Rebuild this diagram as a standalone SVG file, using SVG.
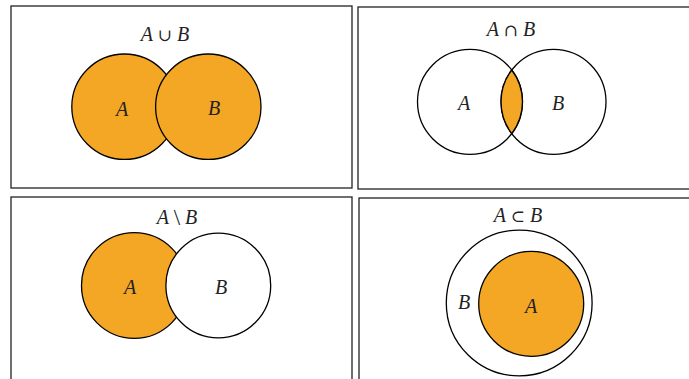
<svg xmlns="http://www.w3.org/2000/svg" width="689" height="379" viewBox="0 0 689 379">
<style>
.frame{fill:#fff;stroke:#222;stroke-width:1.3}
.set{stroke:#000;stroke-width:1.3}
.on{fill:#f4a724}
.off{fill:#fff}
text{font-family:"Liberation Serif","DejaVu Serif",serif;font-style:italic;font-size:20px;fill:#222;text-anchor:middle}
.op{font-family:"DejaVu Serif",serif;font-style:normal;font-size:17px}
.bs{font-family:"Liberation Serif",serif;font-style:normal;font-size:23px}
</style>
<rect width="689" height="379" fill="#fff"/>
<g id="union">
<rect class="frame" x="11" y="6" width="341" height="182"/>
<text x="165" y="41">A <tspan class="op">∪</tspan> B</text>
<circle class="set on" cx="124.5" cy="106.7" r="52.7"/>
<circle class="set on" cx="208.3" cy="106.7" r="52.7"/>
<text x="122" y="116">A</text>
<text x="214" y="115">B</text>
</g>
<g id="intersection">
<rect class="frame" x="358" y="7" width="340" height="182"/>
<text x="511" y="36">A <tspan class="op">∩</tspan> B</text>
<circle class="set" cx="470" cy="101.8" r="52.5" fill="none"/>
<circle class="set" cx="553.5" cy="101.8" r="52.5" fill="none"/>
<path class="set on" stroke-width="1.6" d="M511.75 70 A52.5 52.5 0 0 1 511.75 133.6 A52.5 52.5 0 0 1 511.75 70Z"/>
<text x="464" y="110">A</text>
<text x="558" y="110">B</text>
</g>
<g id="difference">
<rect class="frame" x="11" y="197" width="341" height="190"/>
<text x="177" y="224">A <tspan class="bs" dy="1">\</tspan><tspan dy="-1"> B</tspan></text>
<circle class="set on" cx="134.3" cy="285.5" r="52.8"/>
<circle class="set off" cx="218.3" cy="285.5" r="52.4"/>
<text x="130" y="294">A</text>
<text x="221" y="294">B</text>
</g>
<g id="subset">
<rect class="frame" x="359" y="198" width="340" height="190"/>
<text x="518" y="222">A <tspan class="op">⊂</tspan> B</text>
<circle class="set off" cx="519.2" cy="303" r="72.9"/>
<circle class="set on" cx="531.2" cy="303.8" r="52.5"/>
<text x="464" y="309">B</text>
<text x="531" y="313">A</text>
</g>
</svg>
